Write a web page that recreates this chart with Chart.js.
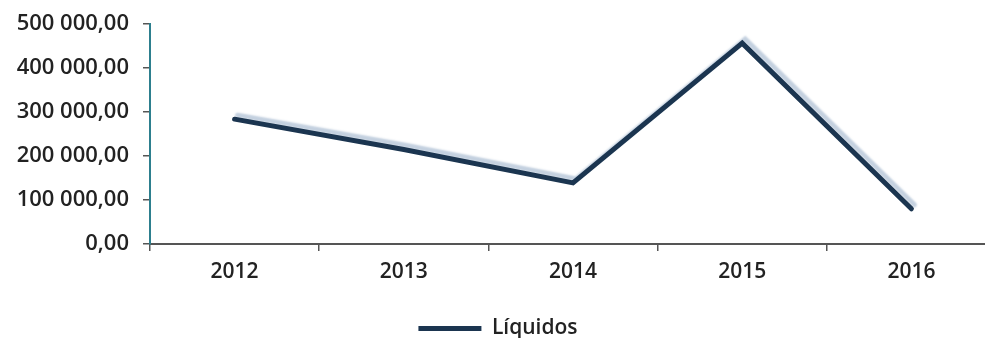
<!DOCTYPE html>
<html>
<head>
<meta charset="utf-8">
<script src="https://cdn.jsdelivr.net/npm/chart.js@4/dist/chart.umd.min.js"></script>
<style>
  html, body { margin: 0; padding: 0; background: #fff; overflow: hidden; }
  #wrap { position: relative; width: 1004px; height: 352px; margin-top: -3px; }
</style>
</head>
<body>
<div id="wrap"><canvas id="c"></canvas></div>
<script>
// Yearly totals of "Líquidos"
const years = ['2012', '2013', '2014', '2015', '2016'];
const liquidos = [284000, 215000, 139000, 457000, 80000];
const yTicks = [0, 100000, 200000, 300000, 400000, 500000];
const seriesName = 'Líquidos';

const navy = '#1b3550';
const fontFamily = '"Open Sans", "Noto Sans", sans-serif';

// "500 000,00" style number format
function fmt(v) {
  const int = Math.round(v).toString().replace(/\B(?=(\d{3})+(?!\d))/g, ' ');
  return int + ',00';
}

// soft pale shadow drawn up-right of the line
const lineShadow = {
  id: 'lineShadow',
  beforeDatasetsDraw(chart) {
    const ctx = chart.ctx;
    ctx.save();
    ctx.shadowColor = 'rgba(170,188,210,0.7)';
    ctx.shadowBlur = 2;
    ctx.shadowOffsetX = 3;
    ctx.shadowOffsetY = -4;
  },
  afterDatasetsDraw(chart) {
    chart.ctx.restore();
  }
};

new Chart(document.getElementById('c'), {
  type: 'line',
  data: {
    labels: years,
    datasets: [{
      label: seriesName,
      data: liquidos,
      borderColor: navy,
      backgroundColor: navy,
      borderWidth: 5,
      pointRadius: 0,
      pointHoverRadius: 0,
      tension: 0,
      borderCapStyle: 'round',
      borderJoinStyle: 'miter'
    }]
  },
  plugins: [lineShadow],
  options: {
    responsive: true,
    maintainAspectRatio: false,
    animation: false,
    events: [],
    layout: { padding: { top: 6, right: 8, left: 0, bottom: 0 } },
    plugins: {
      tooltip: { enabled: false },
      legend: {
        position: 'bottom',
        labels: {
          color: '#222',
          font: { family: fontFamily, size: 21, weight: '600' },
          boxWidth: 63,
          boxHeight: 5,
          padding: 5,
          generateLabels(chart) {
            return chart.data.datasets.map((ds, i) => ({
              text: ds.label,
              fillStyle: navy,
              strokeStyle: navy,
              lineWidth: 0,
              fontColor: '#222',
              datasetIndex: i
            }));
          }
        }
      }
    },
    scales: {
      x: {
        type: 'category',
        offset: true,
        grid: {
          offset: true,
          drawOnChartArea: false,
          drawTicks: true,
          tickLength: 7,
          color: '#555',
          lineWidth: 1.5
        },
        border: { display: true, color: '#555', width: 2 },
        ticks: {
          color: '#222',
          font: { family: fontFamily, size: 21, weight: '600' },
          padding: 8,
          maxRotation: 0
        },
        afterFit(scale) { scale.height = 69; }
      },
      y: {
        min: 0,
        max: 500000,
        afterBuildTicks(scale) { scale.ticks = yTicks.map(v => ({ value: v })); },
        grid: {
          drawOnChartArea: false,
          drawTicks: true,
          tickLength: 7,
          color: '#555',
          lineWidth: 1.5
        },
        border: { display: true, color: '#2d7f8e', width: 2 },
        ticks: {
          color: '#222',
          font: { family: fontFamily, size: 22, weight: '600' },
          padding: 14,
          callback: (v) => fmt(v)
        },
        afterFit(scale) { scale.width = 150; }
      }
    }
  }
});
</script>
</body>
</html>
